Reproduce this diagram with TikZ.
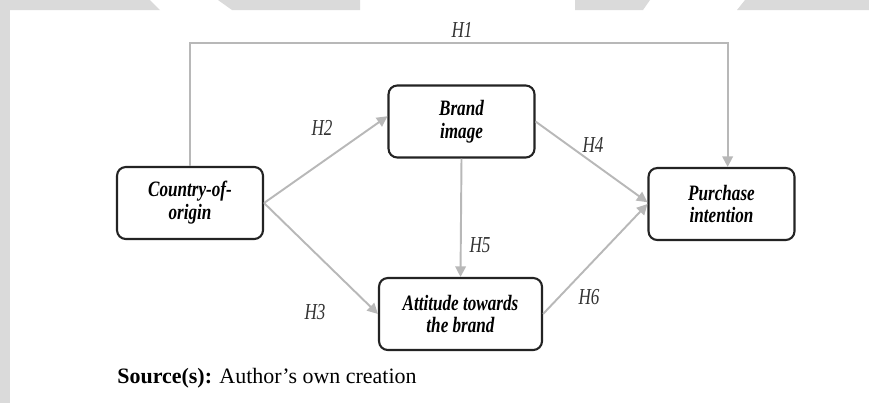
\documentclass[tikz,border=0pt]{standalone}
\usepackage{fontspec}
\setmainfont{Liberation Serif}
\newfontfamily\narrowfont[FakeStretch=0.78]{Liberation Serif}
\newfontfamily\hypfont[FakeStretch=0.75]{Liberation Serif}
\usetikzlibrary{arrows.meta,positioning}

\definecolor{linegray}{RGB}{184,184,184}
\definecolor{pagegray}{RGB}{218,218,218}
\definecolor{boxline}{RGB}{35,35,35}

\tikzset{
  construct/.style={draw=boxline, line width=1.2pt, rounded corners=5pt, fill=white,
    minimum width=2.92cm, minimum height=1.44cm, align=center,
    font=\narrowfont\fontsize{12.5}{13}\selectfont\bfseries\itshape},
  path/.style={draw=linegray, line width=1.1pt, -{Triangle[length=6pt,width=6pt]}},
  hyp/.style={font=\hypfont\fontsize{13}{14}\selectfont\itshape, text=black!80}
}

\begin{document}
\begin{tikzpicture}[x=0.02cm, y=-0.02cm]
  \useasboundingbox (0,0) rectangle (869,403);

  % Page edge
  \fill[pagegray] (0,0) rectangle (10,403);
  \fill[pagegray] (0,0) -- (150,0) -- (160,10) -- (0,10) -- cycle;
  \fill[pagegray] (218,0) -- (360,0) -- (360,10) -- (232,10) -- cycle;
  \fill[pagegray] (575,0) -- (650,0) -- (643,10) -- (575,10) -- cycle;
  \fill[pagegray] (745,0) -- (869,0) -- (869,10) -- (737,10) -- cycle;

  % Constructs
  \node[construct] (coo) at (190,203) {Country-of-\\origin};
  \node[construct] (img) at (461.5,121.5) {Brand\\image};
  \node[construct, minimum width=3.26cm] (att) at (460.5,314) {Attitude towards\\the brand};
  \node[construct] (pi) at (721.5,204) {Purchase\\intention};

  % Hypotheses
  \coordinate (top) at (460,43);
  \draw[path] (coo.north) |- (top) -| ([xshift=3.5pt]pi.north);
  \draw[path] (coo.east) -- ([yshift=3pt]img.west);
  \draw[path] (coo.east) -- (att.west);
  \draw[path] (img.east) -- ([yshift=1pt]pi.west);
  \draw[path] (att.east) -- (pi.west);
  \draw[path] (img.south) -- (att.north);

  \node[hyp] (h1) at (462,30) {H1};
  \node[hyp] (h2) at (322,128) {H2};
  \node[hyp] (h3) at (315,312) {H3};
  \node[hyp] (h4) at (593,145) {H4};
  \node[hyp] (h5) at (480,245) {H5};
  \node[hyp] (h6) at (589,297) {H6};

  % Source
  \node[anchor=west, inner sep=0pt, font=\fontsize{12.5}{14}\selectfont] (src) at (117,378)
    {\textbf{Source(s):} Author’s own creation};
\end{tikzpicture}
\end{document}
